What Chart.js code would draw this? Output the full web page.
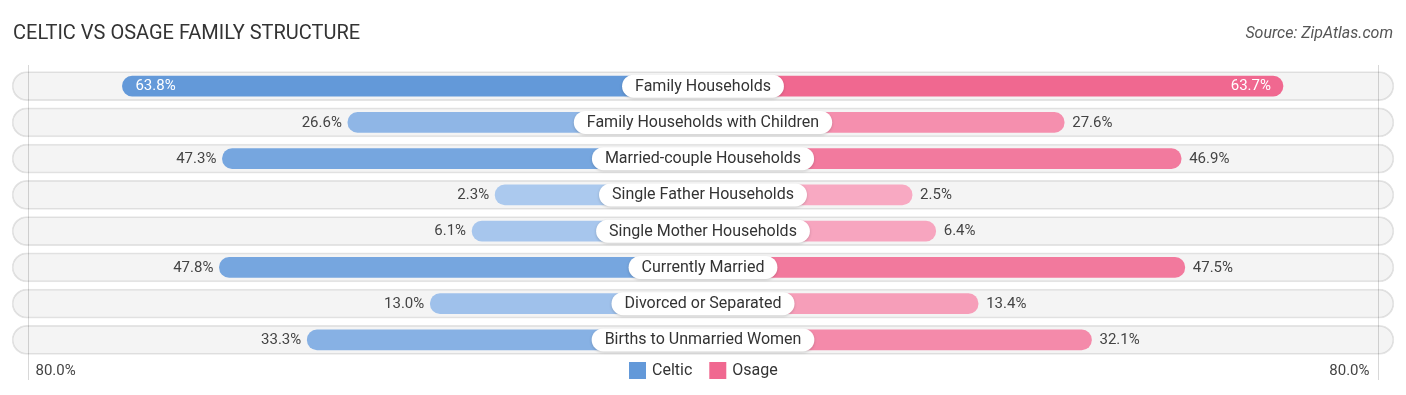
<!DOCTYPE html>
<html>
<head>
<meta charset="utf-8">
<script src="https://cdn.jsdelivr.net/npm/chart.js@4.4.0/dist/chart.umd.min.js"></script>
<style>
  html, body { margin: 0; padding: 0; background: #ffffff; }
  #wrap { width: 1406px; height: 395px; position: relative; }
</style>
</head>
<body>
<div id="wrap"><canvas id="c" width="1406" height="395"></canvas></div>
<script>
const TITLE = "CELTIC VS OSAGE FAMILY STRUCTURE";
const SOURCE = "Source: ZipAtlas.com";
const CATEGORIES = [
  "Family Households",
  "Family Households with Children",
  "Married-couple Households",
  "Single Father Households",
  "Single Mother Households",
  "Currently Married",
  "Divorced or Separated",
  "Births to Unmarried Women"
];
const CELTIC = [63.8, 26.6, 47.3, 2.3, 6.1, 47.8, 13.0, 33.3];
const OSAGE  = [63.7, 27.6, 46.9, 2.5, 6.4, 47.5, 13.4, 32.1];
const SERIES_NAMES = ["Celtic", "Osage"];
const SERIES_COLORS = ["#6399d9", "#f06890"];
const AXIS_MAX = 80;
const TICK_LABELS = ["80.0%", "80.0%"];

// layout / style constants
const OFF = 32;          // visual offset so bars clear the centre label
const HALF = 116;        // half-range of the x scale
const BG_HALF = 114;     // half-width of the row background pill
const GRID_AT = OFF + 79.3;
const FONT = "Roboto, 'Noto Sans', 'DejaVu Sans', sans-serif";

function mix(a, b, t) {
  const pa = [parseInt(a.slice(1,3),16), parseInt(a.slice(3,5),16), parseInt(a.slice(5,7),16)];
  const pb = [parseInt(b.slice(1,3),16), parseInt(b.slice(3,5),16), parseInt(b.slice(5,7),16)];
  const r = pa.map((v,i) => Math.round(v + (pb[i]-v)*t));
  return `rgb(${r[0]},${r[1]},${r[2]})`;
}
const MAXV = Math.max(...CELTIC, ...OSAGE);
const celticColors = CELTIC.map(v => mix("#aecbef", SERIES_COLORS[0], v / MAXV));
const osageColors  = OSAGE.map(v => mix("#f8acc4", SERIES_COLORS[1], v / MAXV));

function pill(ctx, x, y, w, h) {
  const r = h / 2;
  ctx.beginPath();
  ctx.moveTo(x + r, y);
  ctx.lineTo(x + w - r, y);
  ctx.arc(x + w - r, y + r, r, -Math.PI/2, Math.PI/2);
  ctx.lineTo(x + r, y + h);
  ctx.arc(x + r, y + r, r, Math.PI/2, Math.PI*1.5);
  ctx.closePath();
}

const decor = {
  id: "decor",
  beforeDatasetsDraw(chart) {
    const ctx = chart.ctx, xs = chart.scales.x;
    ctx.save();
    ctx.strokeStyle = "#d8d8d8";
    ctx.lineWidth = 1;
    [-GRID_AT, GRID_AT].forEach(v => {
      const px = Math.round(xs.getPixelForValue(v)) + 0.5;
      ctx.beginPath(); ctx.moveTo(px, 65); ctx.lineTo(px, 380); ctx.stroke();
    });
    ctx.restore();
  },
  afterDatasetsDraw(chart) {
    const ctx = chart.ctx, xs = chart.scales.x, ys = chart.scales.y;
    const cx = xs.getPixelForValue(0);
    ctx.save();
    // title + source
    ctx.textBaseline = "middle";
    ctx.fillStyle = "#333333";
    ctx.font = `400 20px ${FONT}`;
    ctx.textAlign = "left";
    ctx.fillText(TITLE, 13, 34);
    ctx.fillStyle = "#555555";
    ctx.font = `italic 400 16px ${FONT}`;
    ctx.textAlign = "right";
    ctx.fillText(SOURCE, 1393, 34);

    CATEGORIES.forEach((cat, i) => {
      const y = ys.getPixelForValue(i);
      // centre label pill
      ctx.font = `400 16px ${FONT}`;
      const tw = ctx.measureText(cat).width;
      const w = tw + 26, h = 23;
      ctx.save();
      ctx.shadowColor = "rgba(0,0,0,0.18)";
      ctx.shadowBlur = 3;
      ctx.shadowOffsetY = 1;
      ctx.fillStyle = "#ffffff";
      pill(ctx, cx - w/2, y - h/2, w, h);
      ctx.fill();
      ctx.restore();
      ctx.fillStyle = "#333333";
      ctx.textAlign = "center";
      ctx.fillText(cat, cx, y + 0.5);

      // value labels
      ctx.font = `400 15px ${FONT}`;
      const lv = CELTIC[i], rv = OSAGE[i];
      const lx = xs.getPixelForValue(-(OFF + lv));
      if (lv > 55) {
        ctx.fillStyle = "#ffffff"; ctx.textAlign = "left";
        ctx.fillText(lv.toFixed(1) + "%", lx + 13, y + 0.5);
      } else {
        ctx.fillStyle = "#444444"; ctx.textAlign = "right";
        ctx.fillText(lv.toFixed(1) + "%", lx - 6, y + 0.5);
      }
      const rx = xs.getPixelForValue(OFF + rv);
      if (rv > 55) {
        ctx.fillStyle = "#ffffff"; ctx.textAlign = "right";
        ctx.fillText(rv.toFixed(1) + "%", rx - 12, y + 0.5);
      } else {
        ctx.fillStyle = "#444444"; ctx.textAlign = "left";
        ctx.fillText(rv.toFixed(1) + "%", rx + 8, y + 0.5);
      }
    });

    // bottom axis labels
    ctx.font = `400 15px ${FONT}`;
    ctx.fillStyle = "#444444";
    ctx.textAlign = "left";
    ctx.fillText(TICK_LABELS[0], xs.getPixelForValue(-GRID_AT) + 7, 371);
    ctx.textAlign = "right";
    ctx.fillText(TICK_LABELS[1], xs.getPixelForValue(GRID_AT) - 8, 371);

    // legend
    ctx.font = `400 16px ${FONT}`;
    const box = 17, gapBT = 6, gapItems = 17;
    const widths = SERIES_NAMES.map(n => box + gapBT + ctx.measureText(n).width);
    const total = widths.reduce((a, b) => a + b, 0) + gapItems * (SERIES_NAMES.length - 1);
    let lx0 = Math.round(cx - total / 2);
    const ly = 370.5;
    SERIES_NAMES.forEach((n, i) => {
      ctx.fillStyle = SERIES_COLORS[i];
      ctx.fillRect(lx0, Math.round(ly - box/2), box, box);
      ctx.fillStyle = "#333333";
      ctx.textAlign = "left";
      ctx.fillText(n, lx0 + box + gapBT, ly + 0.5);
      lx0 += widths[i] + gapItems;
    });
    ctx.restore();
  }
};

new Chart(document.getElementById("c"), {
  type: "bar",
  data: {
    labels: CATEGORIES,
    datasets: [
      {
        label: SERIES_NAMES[0],
        data: CELTIC.map(v => [-(OFF + v), 0]),
        backgroundColor: celticColors,
        borderRadius: 10,
        borderSkipped: false,
        barThickness: 20,
        grouped: false,
        order: 1
      },
      {
        label: SERIES_NAMES[1],
        data: OSAGE.map(v => [0, OFF + v]),
        backgroundColor: osageColors,
        borderRadius: 10,
        borderSkipped: false,
        barThickness: 20,
        grouped: false,
        order: 1
      },
      {
        label: "bg",
        data: CATEGORIES.map(() => [-BG_HALF, BG_HALF]),
        backgroundColor: "rgba(0,0,0,0.045)",
        borderColor: "rgba(0,0,0,0.10)",
        borderWidth: 1,
        borderRadius: 15,
        borderSkipped: false,
        barThickness: 29,
        grouped: false,
        order: 5
      }
    ]
  },
  options: {
    indexAxis: "y",
    responsive: false,
    animation: false,
    layout: { padding: { top: 68, bottom: 37, left: 0, right: 0 } },
    scales: {
      x: { type: "linear", min: -HALF, max: HALF, display: false },
      y: { type: "category", display: false }
    },
    plugins: {
      tooltip: { enabled: false },
      legend: { display: false }
    }
  },
  plugins: [decor]
});
</script>
</body>
</html>
